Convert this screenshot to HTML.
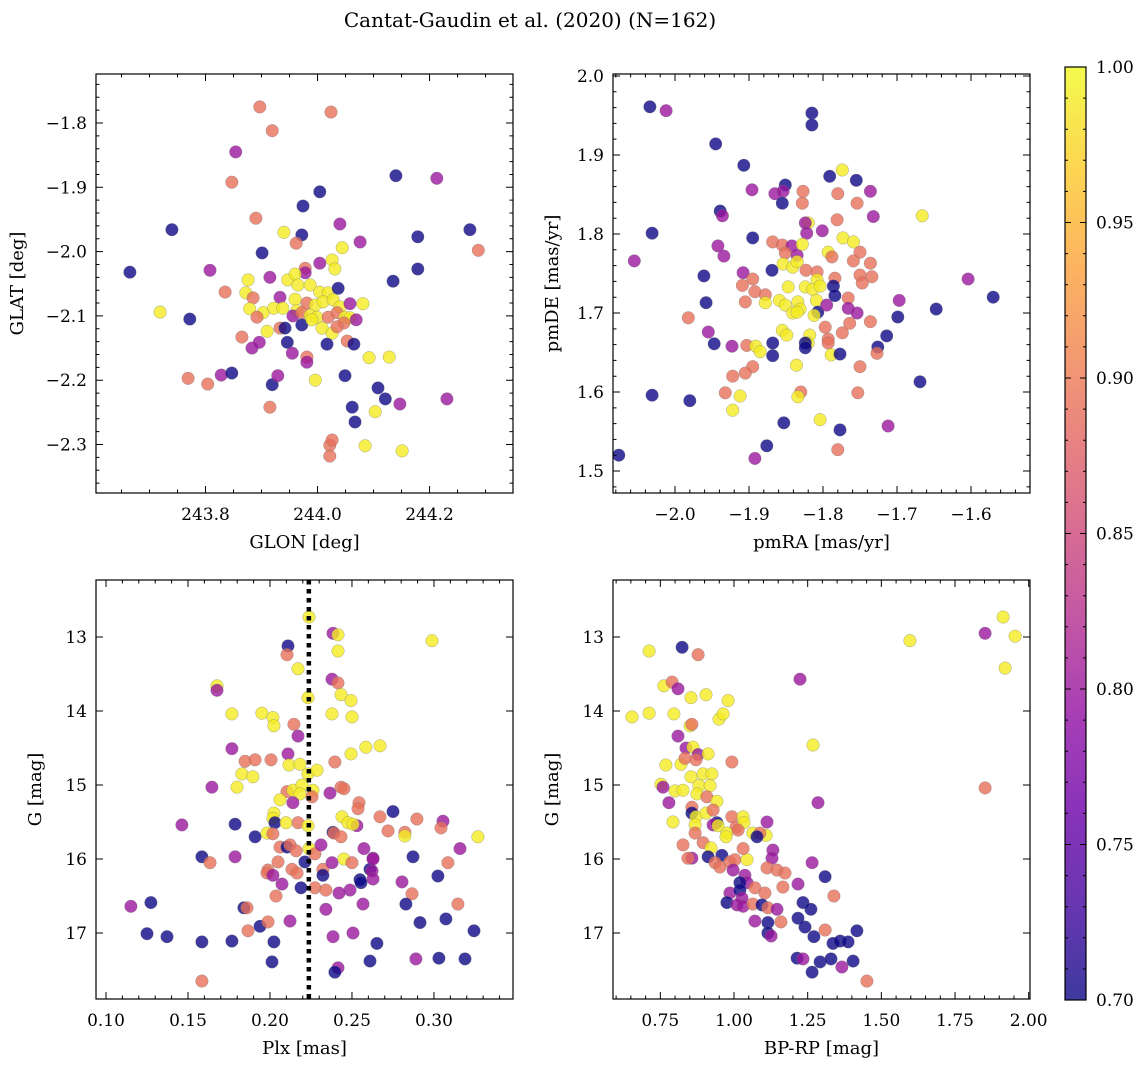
<!DOCTYPE html>
<html><head><meta charset="utf-8">
<style>
html,body{margin:0;padding:0;background:#fff;}
svg{display:block;font-family:"DejaVu Serif","Liberation Serif",serif;}
</style></head>
<body>
<svg id="fig" width="1148" height="1067" viewBox="0 0 1148 1067" xmlns="http://www.w3.org/2000/svg">
<rect width="1148" height="1067" fill="#fff"/>
<text x="530" y="27" font-size="20" text-anchor="middle">Cantat-Gaudin et al. (2020) (N=162)</text>
</svg>
<script>
// ---------- data ----------
const tlX=[243.665,243.740,243.772,243.769,243.804,243.828,243.847,243.835,243.808,243.847,243.854,243.897,243.919,243.890,243.974,244.004,244.024,244.140,244.179,244.213,244.272,244.287,244.179,243.719,243.919,243.915,243.929,243.996,244.022,244.022,244.026,244.049,244.062,244.067,244.085,244.103,244.108,244.121,244.147,244.231,244.151,
243.940,243.972,243.962,243.901,244.044,244.076,244.040,244.004,244.026,244.031,243.978,243.978,243.915,243.876,243.872,243.885,243.947,243.960,243.965,243.987,244.004,244.019,244.037,244.135,243.933,243.960,243.981,243.996,244.010,244.028,244.040,244.058,244.081,243.879,243.903,243.892,243.922,243.938,243.963,243.956,243.972,243.987,243.999,244.019,244.035,244.049,244.058,244.069,244.047,243.910,243.933,243.942,243.972,243.990,244.008,244.026,244.035,243.865,243.883,243.896,243.946,243.955,243.981,243.981,244.017,244.053,244.065,244.092,244.128];
const tlY=[-2.032,-1.966,-2.105,-2.197,-2.206,-2.192,-2.189,-2.063,-2.029,-1.892,-1.845,-1.775,-1.812,-1.948,-1.929,-1.907,-1.783,-1.882,-1.977,-1.886,-1.966,-1.998,-2.027,-2.094,-2.207,-2.242,-2.193,-2.200,-2.301,-2.318,-2.293,-2.193,-2.242,-2.265,-2.302,-2.249,-2.212,-2.229,-2.237,-2.229,-2.310,
-1.970,-1.974,-1.987,-2.002,-1.994,-1.985,-1.957,-2.018,-2.013,-2.027,-2.026,-2.033,-2.040,-2.044,-2.064,-2.072,-2.044,-2.035,-2.052,-2.052,-2.063,-2.064,-2.057,-2.046,-2.071,-2.074,-2.080,-2.083,-2.078,-2.075,-2.086,-2.081,-2.081,-2.089,-2.095,-2.102,-2.088,-2.088,-2.092,-2.100,-2.095,-2.099,-2.102,-2.102,-2.095,-2.102,-2.103,-2.106,-2.111,-2.124,-2.119,-2.119,-2.114,-2.106,-2.119,-2.127,-2.117,-2.133,-2.150,-2.141,-2.141,-2.158,-2.164,-2.172,-2.144,-2.139,-2.144,-2.165,-2.164];
const tlC=[0.7,0.7,0.7,0.89,0.89,0.8,0.7,0.89,0.8,0.89,0.8,0.89,0.89,0.89,0.7,0.7,0.89,0.7,0.7,0.8,0.7,0.89,0.7,0.99,0.7,0.89,0.8,0.99,0.89,0.89,0.89,0.7,0.7,0.7,0.99,0.99,0.7,0.7,0.8,0.8,0.99,
0.99,0.7,0.89,0.7,0.99,0.8,0.8,0.8,0.99,0.99,0.89,0.8,0.8,0.99,0.99,0.89,0.99,0.99,0.99,0.99,0.99,0.99,0.7,0.7,0.8,0.99,0.89,0.99,0.99,0.99,0.99,0.8,0.99,0.99,0.99,0.89,0.99,0.99,0.99,0.8,0.89,0.99,0.99,0.89,0.89,0.99,0.99,0.8,0.89,0.99,0.89,0.7,0.7,0.99,0.99,0.99,0.89,0.89,0.8,0.8,0.7,0.8,0.89,0.8,0.7,0.89,0.7,0.99,0.99];

const trX=[-2.034,-2.076,-2.031,-2.031,-2.055,-2.012,-1.980,-1.945,-1.939,-1.936,-1.907,-1.942,-1.934,-1.961,-1.958,-1.982,-1.955,-1.947,-1.923,-1.922,-1.932,-1.912,-1.922,-1.892,-1.853,-1.876,-1.815,-1.815,-1.791,-1.774,-1.712,-1.669,-1.666,-1.647,-1.604,-1.570,-1.830,-1.834,-1.804,-1.777,-1.780,-1.753,
-1.896,-1.865,-1.851,-1.854,-1.855,-1.827,-1.828,-1.780,-1.754,-1.736,-1.732,-1.755,-1.781,-1.820,-1.824,-1.822,-1.801,-1.895,-1.868,-1.855,-1.842,-1.851,-1.835,-1.828,-1.773,-1.759,-1.793,-1.788,-1.750,-1.759,-1.736,-1.854,-1.841,-1.835,-1.823,-1.808,-1.908,-1.869,-1.895,-1.909,-1.892,-1.878,-1.905,-1.847,-1.824,-1.808,-1.814,-1.804,-1.784,-1.786,-1.784,-1.750,-1.734,-1.747,-1.878,-1.859,-1.851,-1.834,-1.809,-1.831,-1.841,-1.835,-1.807,-1.812,-1.795,-1.766,-1.766,-1.754,-1.764,-1.736,-1.797,-1.774,-1.793,-1.793,-1.714,-1.726,-1.727,-1.855,-1.849,-1.818,-1.820,-1.824,-1.824,-1.789,-1.777,-1.903,-1.891,-1.885,-1.868,-1.868,-1.836,-1.750,-1.895,-1.905,-1.697,-1.699];
const trY=[1.961,1.520,1.596,1.801,1.766,1.956,1.589,1.914,1.829,1.823,1.887,1.785,1.772,1.747,1.713,1.694,1.676,1.661,1.658,1.620,1.599,1.595,1.577,1.516,1.561,1.532,1.953,1.938,1.873,1.881,1.557,1.613,1.823,1.705,1.743,1.720,1.600,1.594,1.565,1.552,1.527,1.599,
1.856,1.851,1.862,1.854,1.839,1.854,1.839,1.851,1.839,1.854,1.822,1.868,1.818,1.814,1.814,1.801,1.804,1.795,1.790,1.786,1.785,1.776,1.773,1.787,1.795,1.790,1.777,1.771,1.777,1.766,1.763,1.762,1.758,1.765,1.754,1.752,1.751,1.754,1.743,1.735,1.727,1.723,1.714,1.733,1.733,1.742,1.730,1.734,1.744,1.734,1.722,1.748,1.746,1.738,1.713,1.716,1.710,1.714,1.716,1.705,1.700,1.701,1.701,1.697,1.710,1.719,1.706,1.700,1.687,1.689,1.682,1.675,1.667,1.662,1.671,1.657,1.649,1.678,1.672,1.672,1.662,1.662,1.656,1.647,1.648,1.659,1.658,1.651,1.662,1.646,1.634,1.632,1.632,1.624,1.716,1.695];
const trC=[0.7,0.7,0.7,0.7,0.8,0.8,0.7,0.7,0.7,0.8,0.7,0.8,0.8,0.7,0.7,0.89,0.8,0.7,0.8,0.89,0.89,0.99,0.99,0.8,0.7,0.7,0.7,0.7,0.7,0.99,0.8,0.7,0.99,0.7,0.8,0.7,0.89,0.99,0.99,0.7,0.89,0.89,
0.8,0.8,0.7,0.8,0.7,0.89,0.89,0.89,0.89,0.8,0.8,0.7,0.89,0.99,0.8,0.8,0.8,0.7,0.89,0.89,0.8,0.89,0.8,0.99,0.99,0.99,0.99,0.89,0.89,0.89,0.89,0.99,0.99,0.99,0.89,0.89,0.8,0.7,0.89,0.89,0.89,0.89,0.89,0.99,0.99,0.99,0.99,0.99,0.89,0.7,0.7,0.89,0.89,0.89,0.99,0.99,0.99,0.99,0.99,0.99,0.99,0.99,0.7,0.99,0.8,0.89,0.8,0.8,0.89,0.89,0.89,0.89,0.89,0.89,0.7,0.7,0.89,0.99,0.99,0.99,0.99,0.7,0.7,0.99,0.7,0.89,0.99,0.99,0.7,0.7,0.99,0.89,0.89,0.89,0.8,0.7];

const blX=[0.2238,0.2384,0.2415,0.2110,0.2104,0.2415,0.2988,0.2171,0.1677,0.1677,0.2378,0.2415,0.2232,0.2433,0.2494,0.1768,0.1951,0.2018,0.2024,0.2146,0.2171,0.2378,0.2500,0.1768,0.1848,0.1909,0.2006,0.2110,0.2116,0.2183,0.2232,0.2287,0.2396,0.2494,0.2585,0.2671,0.1829,0.1896,0.1799,0.1646,0.2104,0.2140,0.2195,0.2262,0.2256,0.2183,0.2140,0.2061,0.2366,0.2433,0.2451,0.2543,0.2537,0.2750,0.2671,0.2896,0.3055,0.3043,0.1463,0.1787,0.2024,0.2018,0.2030,0.2098,0.2171,0.2232,0.2439,0.2476,0.2530,0.2506,0.1909,0.1982,0.2018,0.2384,0.2390,0.2433,0.2720,0.2823,0.2823,0.2061,0.2104,0.2122,0.2159,0.2238,0.2274,0.2311,0.2573,0.2628,0.2872,0.3159,0.1585,0.1634,0.1787,0.2049,0.2213,0.2134,0.2165,0.1988,0.1982,0.2018,0.2323,0.2378,0.2323,0.2451,0.2500,0.2610,0.2622,0.2549,0.2805,0.3024,0.3085,0.3268,0.2866,0.2829,0.3146,0.2915,0.3073,0.3244,0.2652,0.2610,0.2890,0.3030,0.3189,0.2506,0.2384,0.2415,0.2396,0.2567,0.2555,0.2628,0.2628,0.2488,0.2421,0.1152,0.1274,0.1250,0.1372,0.1585,0.1768,0.1585,0.1841,0.1860,0.1939,0.1988,0.1866,0.2024,0.2012,0.2037,0.2073,0.2189,0.2274,0.2341,0.2341,0.2122];
const blY=[12.73,12.95,12.97,13.12,13.24,13.19,13.05,13.43,13.66,13.72,13.57,13.62,13.82,13.78,13.86,14.04,14.03,14.09,14.20,14.18,14.34,14.04,14.08,14.51,14.68,14.66,14.66,14.58,14.73,14.72,14.85,14.80,14.69,14.58,14.49,14.47,14.85,14.89,15.03,15.03,15.09,15.07,15.00,15.07,15.16,15.12,15.24,15.20,15.11,15.03,15.05,15.24,15.32,15.36,15.43,15.46,15.49,15.58,15.54,15.53,15.38,15.45,15.51,15.51,15.51,15.55,15.43,15.51,15.55,15.53,15.70,15.65,15.66,15.64,15.65,15.70,15.62,15.64,15.69,15.84,15.84,15.81,15.89,15.86,15.93,15.81,15.86,15.99,15.97,15.86,15.97,16.05,15.97,16.04,16.04,16.14,16.19,16.15,16.19,16.22,16.14,16.05,16.22,16.00,16.05,16.14,16.16,16.28,16.31,16.23,16.05,15.70,16.47,16.61,16.61,16.86,16.81,16.97,17.14,17.38,17.35,17.34,17.35,17.00,17.05,17.47,17.53,16.61,16.32,16.27,16.00,16.42,16.46,16.64,16.59,17.01,17.05,17.12,17.11,17.65,16.66,16.66,16.91,16.85,16.97,17.12,17.39,16.50,16.34,16.39,16.39,16.42,16.68,16.84];
const blC=[0.99,0.8,0.99,0.7,0.89,0.99,0.99,0.99,0.99,0.8,0.8,0.89,0.99,0.99,0.99,0.99,0.99,0.99,0.99,0.89,0.8,0.99,0.99,0.8,0.89,0.89,0.89,0.8,0.99,0.99,0.99,0.99,0.89,0.99,0.99,0.99,0.99,0.99,0.99,0.8,0.89,0.99,0.99,0.99,0.89,0.99,0.8,0.99,0.8,0.89,0.89,0.89,0.89,0.7,0.89,0.89,0.8,0.89,0.8,0.7,0.99,0.99,0.7,0.99,0.89,0.99,0.99,0.99,0.8,0.99,0.7,0.99,0.89,0.7,0.89,0.89,0.89,0.89,0.99,0.89,0.7,0.89,0.89,0.99,0.89,0.8,0.8,0.8,0.7,0.8,0.7,0.89,0.8,0.89,0.7,0.89,0.89,0.89,0.89,0.8,0.89,0.8,0.7,0.99,0.89,0.7,0.8,0.7,0.8,0.7,0.89,0.99,0.89,0.7,0.89,0.7,0.7,0.7,0.7,0.7,0.8,0.7,0.7,0.8,0.8,0.8,0.7,0.8,0.7,0.8,0.8,0.8,0.8,0.8,0.7,0.7,0.7,0.7,0.7,0.89,0.7,0.89,0.7,0.89,0.89,0.7,0.7,0.89,0.8,0.7,0.89,0.89,0.8,0.8];
const plxRef=0.2237;

const brX=[0.712,0.824,0.878,1.224,0.762,0.790,0.810,0.854,0.905,0.980,0.654,0.712,0.796,0.949,0.963,0.851,0.857,0.810,0.837,0.861,0.878,0.912,0.993,0.769,0.820,0.834,0.871,0.854,0.895,0.925,0.752,0.759,0.800,0.827,0.881,0.919,0.874,0.908,0.942,0.779,0.857,0.857,0.871,0.905,0.929,0.793,0.868,0.942,0.929,0.946,0.993,1.007,1.031,1.034,1.112,1.064,1.109,1.088,0.868,0.976,1.285,1.078,0.973,1.014,0.895,0.922,0.912,0.959,0.936,0.952,0.986,1.003,1.044,1.031,0.857,1.132,1.129,0.997,1.037,1.044,1.020,1.071,1.105,1.112,1.146,1.173,1.166,0.986,1.020,1.027,0.976,1.010,1.031,1.064,1.095,1.115,1.146,1.071,1.115,1.159,1.115,1.126,1.217,1.265,1.309,1.339,1.234,1.261,1.217,1.241,1.271,1.309,1.336,1.360,1.387,1.417,1.214,1.234,1.292,1.329,1.366,1.404,1.265,1.451,1.913,1.954,1.852,1.920,1.597,1.852,1.268,0.827,0.844];
const brY=[13.19,13.14,13.24,13.57,13.66,13.61,13.70,13.82,13.78,13.86,14.08,14.03,14.04,14.11,14.04,14.20,14.18,14.34,14.50,14.49,14.59,14.58,14.69,14.73,14.72,14.64,14.66,14.89,14.85,14.85,14.99,15.03,15.08,15.07,15.01,15.01,15.12,15.16,15.22,15.24,15.30,15.38,15.43,15.38,15.34,15.50,15.54,15.51,15.54,15.55,15.43,15.57,15.43,15.51,15.50,15.65,15.68,15.65,15.65,15.65,15.24,15.70,15.70,15.61,15.78,15.85,15.97,15.95,16.05,16.11,16.04,16.01,16.01,15.86,15.99,15.88,15.99,16.15,16.22,16.32,16.32,16.39,16.46,16.12,16.15,16.19,16.38,16.46,16.42,16.53,16.59,16.62,16.64,16.61,16.62,16.66,16.68,16.84,16.86,16.85,17.00,17.04,16.34,16.05,16.24,16.50,16.59,16.68,16.80,16.92,17.05,16.96,17.14,17.11,17.12,16.97,17.34,17.35,17.39,17.35,17.46,17.38,17.53,17.65,12.73,12.99,12.95,13.42,13.05,15.04,14.46,15.81,15.99];
const brC=[0.99,0.7,0.89,0.8,0.99,0.89,0.8,0.99,0.99,0.99,0.99,0.99,0.99,0.99,0.99,0.99,0.89,0.8,0.8,0.99,0.8,0.99,0.89,0.99,0.99,0.89,0.89,0.99,0.99,0.99,0.99,0.8,0.99,0.99,0.99,0.99,0.99,0.89,0.99,0.8,0.89,0.7,0.99,0.99,0.89,0.99,0.99,0.7,0.8,0.99,0.89,0.89,0.99,0.99,0.8,0.99,0.99,0.89,0.89,0.99,0.8,0.7,0.99,0.89,0.89,0.99,0.7,0.7,0.89,0.89,0.89,0.89,0.99,0.89,0.8,0.8,0.8,0.8,0.8,0.8,0.7,0.89,0.89,0.89,0.89,0.89,0.89,0.8,0.7,0.8,0.7,0.8,0.8,0.89,0.7,0.89,0.8,0.8,0.7,0.89,0.7,0.8,0.8,0.8,0.7,0.89,0.7,0.7,0.7,0.7,0.7,0.89,0.7,0.7,0.7,0.7,0.7,0.8,0.7,0.7,0.8,0.7,0.7,0.89,0.99,0.99,0.8,0.99,0.99,0.89,0.99,0.89,0.89];

const tlXTicks=[243.8,244.0,244.2], tlYTicks=[-1.8,-1.9,-2.0,-2.1,-2.2,-2.3];
const trXTicks=[-2.0,-1.9,-1.8,-1.7,-1.6], trYTicks=[1.5,1.6,1.7,1.8,1.9,2.0];
const blXTicks=[0.10,0.15,0.20,0.25,0.30], magTicks=[13,14,15,16,17];
const brXTicks=[0.75,1.00,1.25,1.50,1.75,2.00];
const cbTicks=[0.70,0.75,0.80,0.85,0.90,0.95,1.00];

// ---------- drawing ----------
const NS="http://www.w3.org/2000/svg";
const svg=document.getElementById('fig');
function mk(tag,attrs,parent){const e=document.createElementNS(NS,tag);for(const k in attrs)e.setAttribute(k,attrs[k]);(parent||svg).appendChild(e);return e;}
const stops=[[13,8,135],[65,4,157],[106,0,168],[143,13,164],[177,42,144],[204,71,120],[225,100,98],[242,132,75],[252,166,54],[252,206,37],[240,249,33]];
function plasma(t){t=Math.max(0,Math.min(1,t));const p=t*10,i=Math.min(9,Math.floor(p)),f=p-i;const a=stops[i],b=stops[i+1];return 'rgb('+a.map((v,k)=>Math.round(v+(b[k]-v)*f)).join(',')+')';}
const cmin=0.70,cmax=1.00;
function fmtMinus(s){return s.replace('-','\u2212');}
const TF=17, AF=18;

function panel(name,box,xd,yd,xt,xmin,yt,ymin,xdec,ydec,xs,ys,cs,xtitle,ytitle,ytx,extra){
  const g=mk('g',{});
  
  
  const sx=v=>box.x0+(v-xd[0])/(xd[1]-xd[0])*(box.x1-box.x0);
  const sy=v=>box.y1-(v-yd[0])/(yd[1]-yd[0])*(box.y1-box.y0);
  const clip='clip-'+name;
  const cp=mk('clipPath',{id:clip},g);
  mk('rect',{x:box.x0,y:box.y0,width:box.x1-box.x0,height:box.y1-box.y0},cp);
  const pts=mk('g',{'clip-path':'url(#'+clip+')'},g);
  
  
  const n=Math.min(xs.length,ys.length,cs.length);
  for(let i=0;i<n;i++){
    const c=mk('circle',{cx:sx(xs[i]).toFixed(1),cy:sy(ys[i]).toFixed(1),r:6.3,fill:plasma((cs[i]-cmin)/(cmax-cmin)),'fill-opacity':0.8,stroke:'#777','stroke-width':0.5,'stroke-opacity':0.6},pts);
    
    
  }
  if(extra)extra(g,sx,sy,box);
  const fr=mk('rect',{x:box.x0,y:box.y0,width:box.x1-box.x0,height:box.y1-box.y0,fill:'none',stroke:'#000','stroke-width':1.2},g);
  
  
  let d='';
  const x0=Math.ceil(xd[0]/xmin-1e-6),x1=Math.floor(xd[1]/xmin+1e-6);
  for(let k=x0;k<=x1;k++){const X=sx(k*xmin);d+='M'+X+' '+box.y1+'v-3.5M'+X+' '+box.y0+'v3.5';}
  const y0=Math.ceil(yd[0]/ymin-1e-6),y1=Math.floor(yd[1]/ymin+1e-6);
  for(let k=y0;k<=y1;k++){const Y=sy(k*ymin);d+='M'+box.x0+' '+Y+'h3.5M'+box.x1+' '+Y+'h-3.5';}
  xt.forEach(v=>{const X=sx(v);d+='M'+X+' '+box.y1+'v-7M'+X+' '+box.y0+'v7';});
  yt.forEach(v=>{const Y=sy(v);d+='M'+box.x0+' '+Y+'h7M'+box.x1+' '+Y+'h-7';});
  mk('path',{d:d,stroke:'#000','stroke-width':1,fill:'none'},g);
  xt.forEach(v=>{const t=mk('text',{x:sx(v),y:box.y1+27,'font-size':TF,'text-anchor':'middle'},g);t.textContent=fmtMinus(v.toFixed(xdec));
    
    });
  yt.forEach(v=>{const t=mk('text',{x:box.x0-9,y:sy(v)+6,'font-size':TF,'text-anchor':'end'},g);t.textContent=fmtMinus(v.toFixed(ydec));
    
    });
  const xtl=mk('text',{x:(box.x0+box.x1)/2,y:box.y1+55,'font-size':AF,'text-anchor':'middle'},g);xtl.textContent=xtitle;
  
  
  const cy=(box.y0+box.y1)/2;
  const ytl=mk('text',{x:ytx,y:cy,'font-size':AF,'text-anchor':'middle',transform:'rotate(-90 '+ytx+' '+cy+')'},g);ytl.textContent=ytitle;
  
  
}

panel('glon-glat-panel',{x0:96,x1:513,y0:74,y1:493},[243.6045,244.349],[-2.3754,-1.7238],tlXTicks,0.05,tlYTicks,0.02,1,1,tlX,tlY,tlC,'GLON [deg]','GLAT [deg]',23);
panel('proper-motion-panel',{x0:613,x1:1030,y0:74,y1:493},[-2.0838,-1.5203],[1.4722,2.0025],trXTicks,0.02,trYTicks,0.02,1,1,trX,trY,trC,'pmRA [mas/yr]','pmDE [mas/yr]',558);
panel('parallax-mag-panel',{x0:96,x1:513,y0:580,y1:999},[0.0939,0.3482],[17.892,12.230],blXTicks,0.01,magTicks,0.2,2,0,blX,blY,blC,'Plx [mas]','G [mag]',41,
  function(g,sx,sy,box){const X=sx(plxRef);const l=mk('line',{x1:X,x2:X,y1:box.y0,y2:box.y1,stroke:'#000','stroke-width':4.5,'stroke-dasharray':'4.5 4.5'},g);
    
    });
panel('color-mag-panel',{x0:613,x1:1030,y0:580,y1:999},[0.5894,2.0044],[17.892,12.230],brXTicks,0.05,magTicks,0.2,2,0,brX,brY,brC,'BP-RP [mag]','G [mag]',558);

// ---------- colorbar ----------
const cb={x0:1065,x1:1086,y0:67,y1:1000};
const defs=mk('defs',{});
const lg=mk('linearGradient',{id:'plasmaGrad',x1:0,y1:1,x2:0,y2:0},defs);
for(let i=0;i<=20;i++){mk('stop',{offset:(i/20),'stop-color':plasma(i/20),'stop-opacity':0.8},lg);}
const cbg=mk('g',{});


mk('rect',{x:cb.x0,y:cb.y0,width:cb.x1-cb.x0,height:cb.y1-cb.y0,fill:'url(#plasmaGrad)',stroke:'#000','stroke-width':1.2},cbg);
const cy=v=>cb.y1-(v-cmin)/(cmax-cmin)*(cb.y1-cb.y0);
let cd='';
for(let k=70;k<=100;k++){const Y=cy(k/100);cd+='M'+cb.x0+' '+Y+'h3M'+cb.x1+' '+Y+'h-3';}
cbTicks.forEach(v=>{const Y=cy(v);cd+='M'+cb.x0+' '+Y+'h6M'+cb.x1+' '+Y+'h-6';});
mk('path',{d:cd,stroke:'#000','stroke-width':1,fill:'none'},cbg);
cbTicks.forEach(v=>{const t=mk('text',{x:cb.x1+10,y:cy(v)+6,'font-size':TF},cbg);t.textContent=v.toFixed(2);
  
  });
</script>
</body></html>
